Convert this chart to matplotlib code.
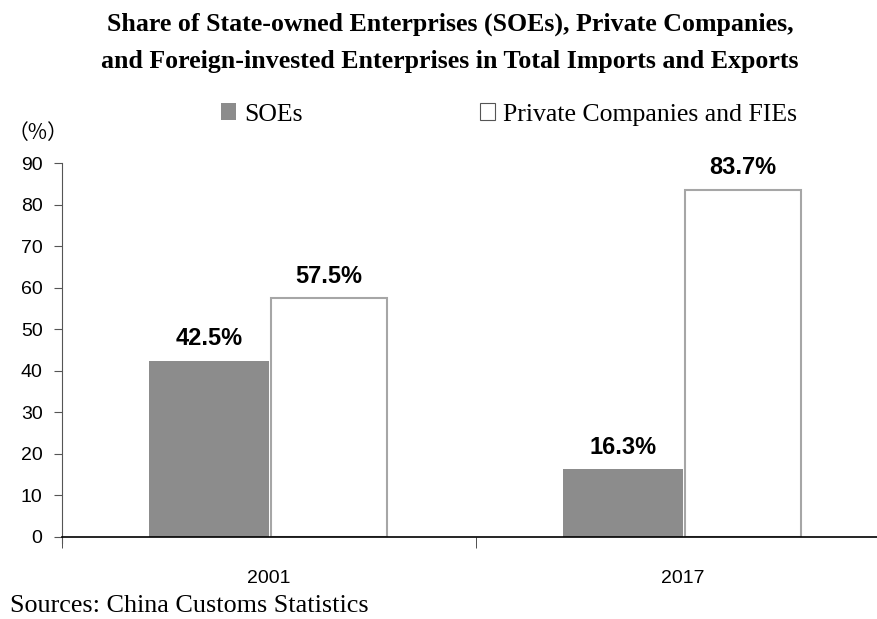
import numpy as np
import matplotlib.pyplot as plt
from matplotlib.patches import Patch

years = ['2001', '2017']
soes = [42.5, 16.3]
private_fies = [57.5, 83.7]
yticks = [0, 10, 20, 30, 40, 50, 60, 70, 80, 90]

title = ('Share of State-owned Enterprises (SOEs), Private Companies,\n'
         'and Foreign-invested Enterprises in Total Imports and Exports')

plt.rcParams['font.family'] = ['Liberation Sans', 'DejaVu Sans']

fig = plt.figure(figsize=(8.77, 6.19), dpi=100)
ax = fig.add_axes([0.0707, 0.1325, 0.944, 0.6034])

x = np.arange(len(years))
w = 0.29
gray = '#8c8c8c'

b1 = ax.bar(x - w / 2, soes, width=w, color=gray, edgecolor='none', zorder=2)
b2 = ax.bar(x + w / 2, private_fies, width=w * 0.97, color='white',
            edgecolor='#a6a6a6', linewidth=1.5, zorder=2)

for bars, vals in [(b1, soes), (b2, private_fies)]:
    for r, v in zip(bars, vals):
        ax.annotate(f'{v}%', (r.get_x() + r.get_width() / 2, v),
                    xytext=(0, 11), textcoords='offset points',
                    ha='center', va='baseline', fontsize=17, fontweight='bold')

ax.set_xlim(-0.5, 1.5)
ax.set_ylim(0, 90)
ax.set_yticks(yticks)
ax.tick_params(axis='y', direction='out', length=6, color='#555555',
               labelsize=14, pad=8)

# category labels in the middle, tick marks on the boundaries
ax.set_xticks(x)
ax.set_xticklabels(years, fontsize=14)
ax.tick_params(axis='x', which='major', length=0, pad=24)
ax.set_xticks([-0.5, 0.5, 1.5], minor=True)
ax.tick_params(axis='x', which='minor', direction='out', length=8, color='#333333')

ax.spines['top'].set_visible(False)
ax.spines['right'].set_visible(False)
ax.spines['left'].set_color('#555555')
ax.spines['left'].set_bounds(-1.5, 90)
ax.spines['bottom'].set_color('black')
ax.spines['bottom'].set_linewidth(1.2)

fig.text(0.513, 0.98, title, ha='center', va='top', fontsize=18.6,
         fontweight='bold', family='Liberation Serif', linespacing=1.8)

handles = [Patch(facecolor=gray, edgecolor='none'),
           Patch(facecolor='white', edgecolor='#555555', linewidth=0.8)]
fig.legend(handles, ['SOEs', 'Private Companies and FIEs'], loc='center',
           bbox_to_anchor=(0.58, 0.815), ncol=2, frameon=False,
           prop={'family': 'Liberation Serif', 'size': 18.5},
           handlelength=0.6, handleheight=0.6, handletextpad=0.3,
           columnspacing=6.9)

fig.text(0.008, 1 - 133 / 619, '（%）', ha='left', va='center', fontsize=15,
         family=['Noto Sans CJK JP', 'DejaVu Sans'])
fig.text(0.011, 1 - 606 / 619, 'Sources: China Customs Statistics',
         ha='left', va='center', fontsize=18.8, family='Liberation Serif')

fig.savefig('out.png', dpi=100)
